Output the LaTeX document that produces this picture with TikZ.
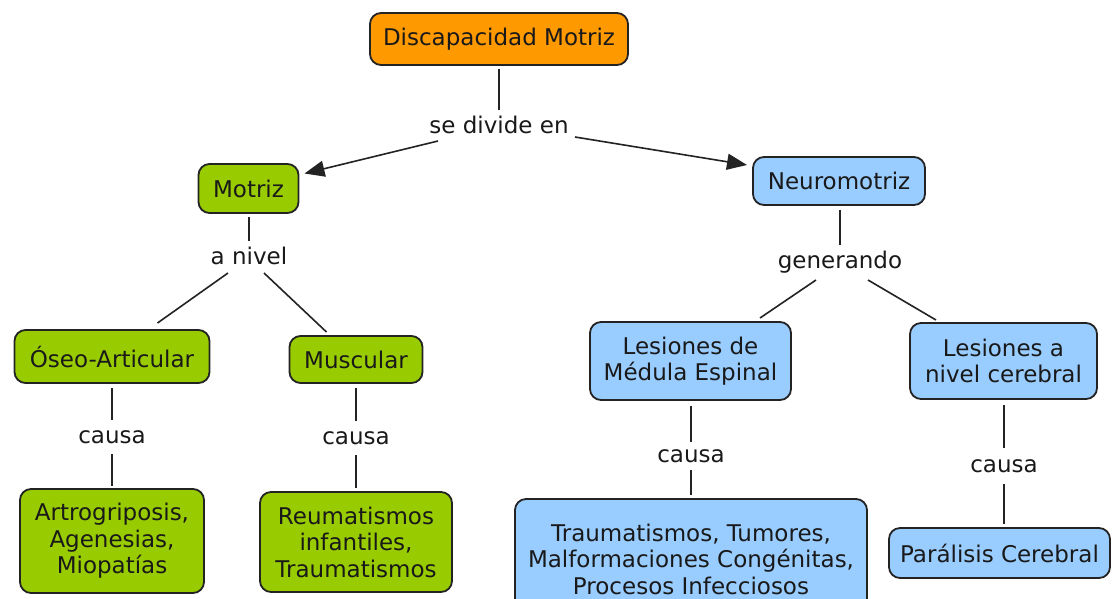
\documentclass[tikz,border=0pt]{standalone}
\usepackage{fontspec}
\setmainfont{DejaVu Sans}
\usetikzlibrary{arrows.meta}
\definecolor{orF}{RGB}{255,153,0}
\definecolor{grF}{RGB}{153,204,0}
\definecolor{blF}{RGB}{153,204,255}
\definecolor{bd}{RGB}{35,35,35}
\definecolor{tx}{RGB}{25,25,25}
\begin{document}
\begin{tikzpicture}[x=1pt,y=-1pt,
  box/.style={draw=bd, line width=1.8pt, rounded corners=11pt, align=center,
    inner sep=0pt, text=tx, font=\fontsize{23}{26.5}\selectfont},
  orbox/.style={box, fill=orF},
  grbox/.style={box, fill=grF},
  blbox/.style={box, fill=blF},
  lbl/.style={inner sep=0pt, minimum height=34pt, text height=16pt, text depth=4pt,
    text=tx, font=\fontsize{23}{26.5}\selectfont},
  con/.style={draw=bd, line width=1.6pt},
  arr/.style={con, -{Triangle[length=20pt,width=16pt]}},
]
\fill[white] (0,0) rectangle (1115,598);
\useasboundingbox (0,0) rectangle (1115,598);

% concept boxes
\node[orbox, minimum width=258pt, minimum height=52pt] (top) at (499,39) {Discapacidad Motriz};
\node[grbox, minimum width=100pt, minimum height=49pt] (motriz) at (248.5,188.5) {Motriz};
\node[blbox, minimum width=172pt, minimum height=48pt] (neuro) at (839,181) {Neuromotriz};
\node[grbox, minimum width=195pt, minimum height=53pt] (oseo) at (112,356.5) {Óseo-Articular};
\node[grbox, minimum width=133pt, minimum height=47pt] (musc) at (356,359.5) {Muscular};
\node[blbox, minimum width=201pt, minimum height=78pt] (lesm) at (690.5,361) {Lesiones de\\Médula Espinal};
\node[blbox, minimum width=187pt, minimum height=76pt] (lesc) at (1003.5,361) {Lesiones a\\nivel cerebral};
\node[grbox, minimum width=184pt, minimum height=104pt] (artro) at (112,541) {Artrogriposis,\\Agenesias,\\Miopatías};
\node[grbox, minimum width=192pt, minimum height=100pt] (reum) at (356,542) {Reumatismos\\infantiles,\\Traumatismos};
\node[blbox, minimum width=352pt, minimum height=120pt] (traum) at (691,559) {Traumatismos, Tumores,\\Malformaciones Congénitas,\\Procesos Infecciosos};
\node[blbox, minimum width=221pt, minimum height=50pt] (paral) at (999.5,553) {Parálisis Cerebral};

% linking phrases
\node[lbl] (sediv) at (499,127) {se divide en};
\node[lbl] (anivel) at (249,258) {a nivel};
\node[lbl] (gen) at (840,262) {generando};
\node[lbl] (c1) at (112,437) {causa};
\node[lbl] (c2) at (356,438) {causa};
\node[lbl, minimum height=28pt] (c3) at (691,456) {causa};
\node[lbl, minimum height=36pt] (c4) at (1004,466) {causa};

% connectors
\draw[con, shorten <=3pt] (top.south) -- (top.south |- sediv.north);
\draw[arr] ([shift={(-61,14)}]sediv.center) -- ([shift={(56,-15)}]motriz.center);
\draw[arr] ([shift={(76,10)}]sediv.center) -- ([shift={(-92,-16)}]neuro.center);

\draw[con, shorten <=3pt] (anivel |- motriz.south) -- (anivel.north);
\draw[con] ([shift={(-21,15)}]anivel.center) -- ([shift={(45.5,-33.5)}]oseo.center);
\draw[con] ([shift={(15,15)}]anivel.center) -- ([shift={(-29.5,-27.5)}]musc.center);

\draw[con, shorten <=4pt] (gen |- neuro.south) -- (gen.north);
\draw[con] ([shift={(-24,18)}]gen.center) -- ([shift={(69.5,-43)}]lesm.center);
\draw[con] ([shift={(28,18)}]gen.center) -- ([shift={(-67.5,-41)}]lesc.center);

\draw[con, shorten <=4pt] (c1 |- oseo.south) -- (c1.north);
\draw[con, shorten >=2pt] (c1.south) -- (c1 |- artro.north);
\draw[con, shorten <=4pt] (c2 |- musc.south) -- (c2.north);
\draw[con, shorten >=3pt] (c2.south) -- (c2 |- reum.north);
\draw[con, shorten <=5pt] (c3 |- lesm.south) -- (c3.north);
\draw[con, shorten >=3pt] (c3.south) -- (c3 |- traum.north);
\draw[con, shorten <=5pt] (c4 |- lesc.south) -- (c4.north);
\draw[con, shorten >=3pt] (c4.south) -- (c4 |- paral.north);
\end{tikzpicture}
\end{document}
